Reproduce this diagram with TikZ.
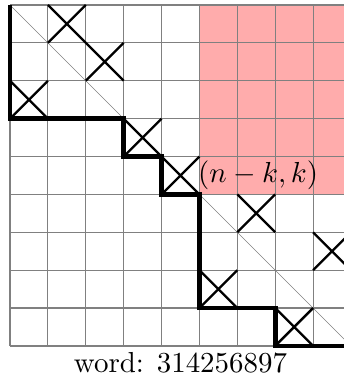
\documentclass[tikz,border=0pt]{standalone}
\definecolor{region}{RGB}{255,172,172}
\definecolor{gridgray}{RGB}{128,128,128}
\usepackage{amsmath,amssymb}
\usetikzlibrary{positioning}

\begin{document}
\begin{tikzpicture}[scale=0.46]
        \useasboundingbox (-0.265,-0.926) rectangle (8.814,9.132);
        \fill[region] (5,4) rectangle (9,9);
        \draw[gridgray,thin] (0,0) grid (9,9);
        \draw[gridgray,very thin] (0,9)--(9,0);
        \foreach \x/\y in {1/8,2/7,0/6,3/5,4/4,6/3,8/2,5/1,7/0}
          \draw[thick] (\x,\y)--(\x+1,\y+1) (\x,\y+1)--(\x+1,\y);
        \draw[ultra thick] (0,9)--(0,6)--(3,6)--(3,5)--(4,5)--(4,4)--(5,4)--(5,1)--(7,1)--(7,0)--(9,0);
        \node[anchor=west,inner sep=0pt] (corner) at (4.95,4.5) {$(n-k,k)$};
        \node (word) at (4.5,-0.45) {word: 314256897};
      \end{tikzpicture}
\end{document}
